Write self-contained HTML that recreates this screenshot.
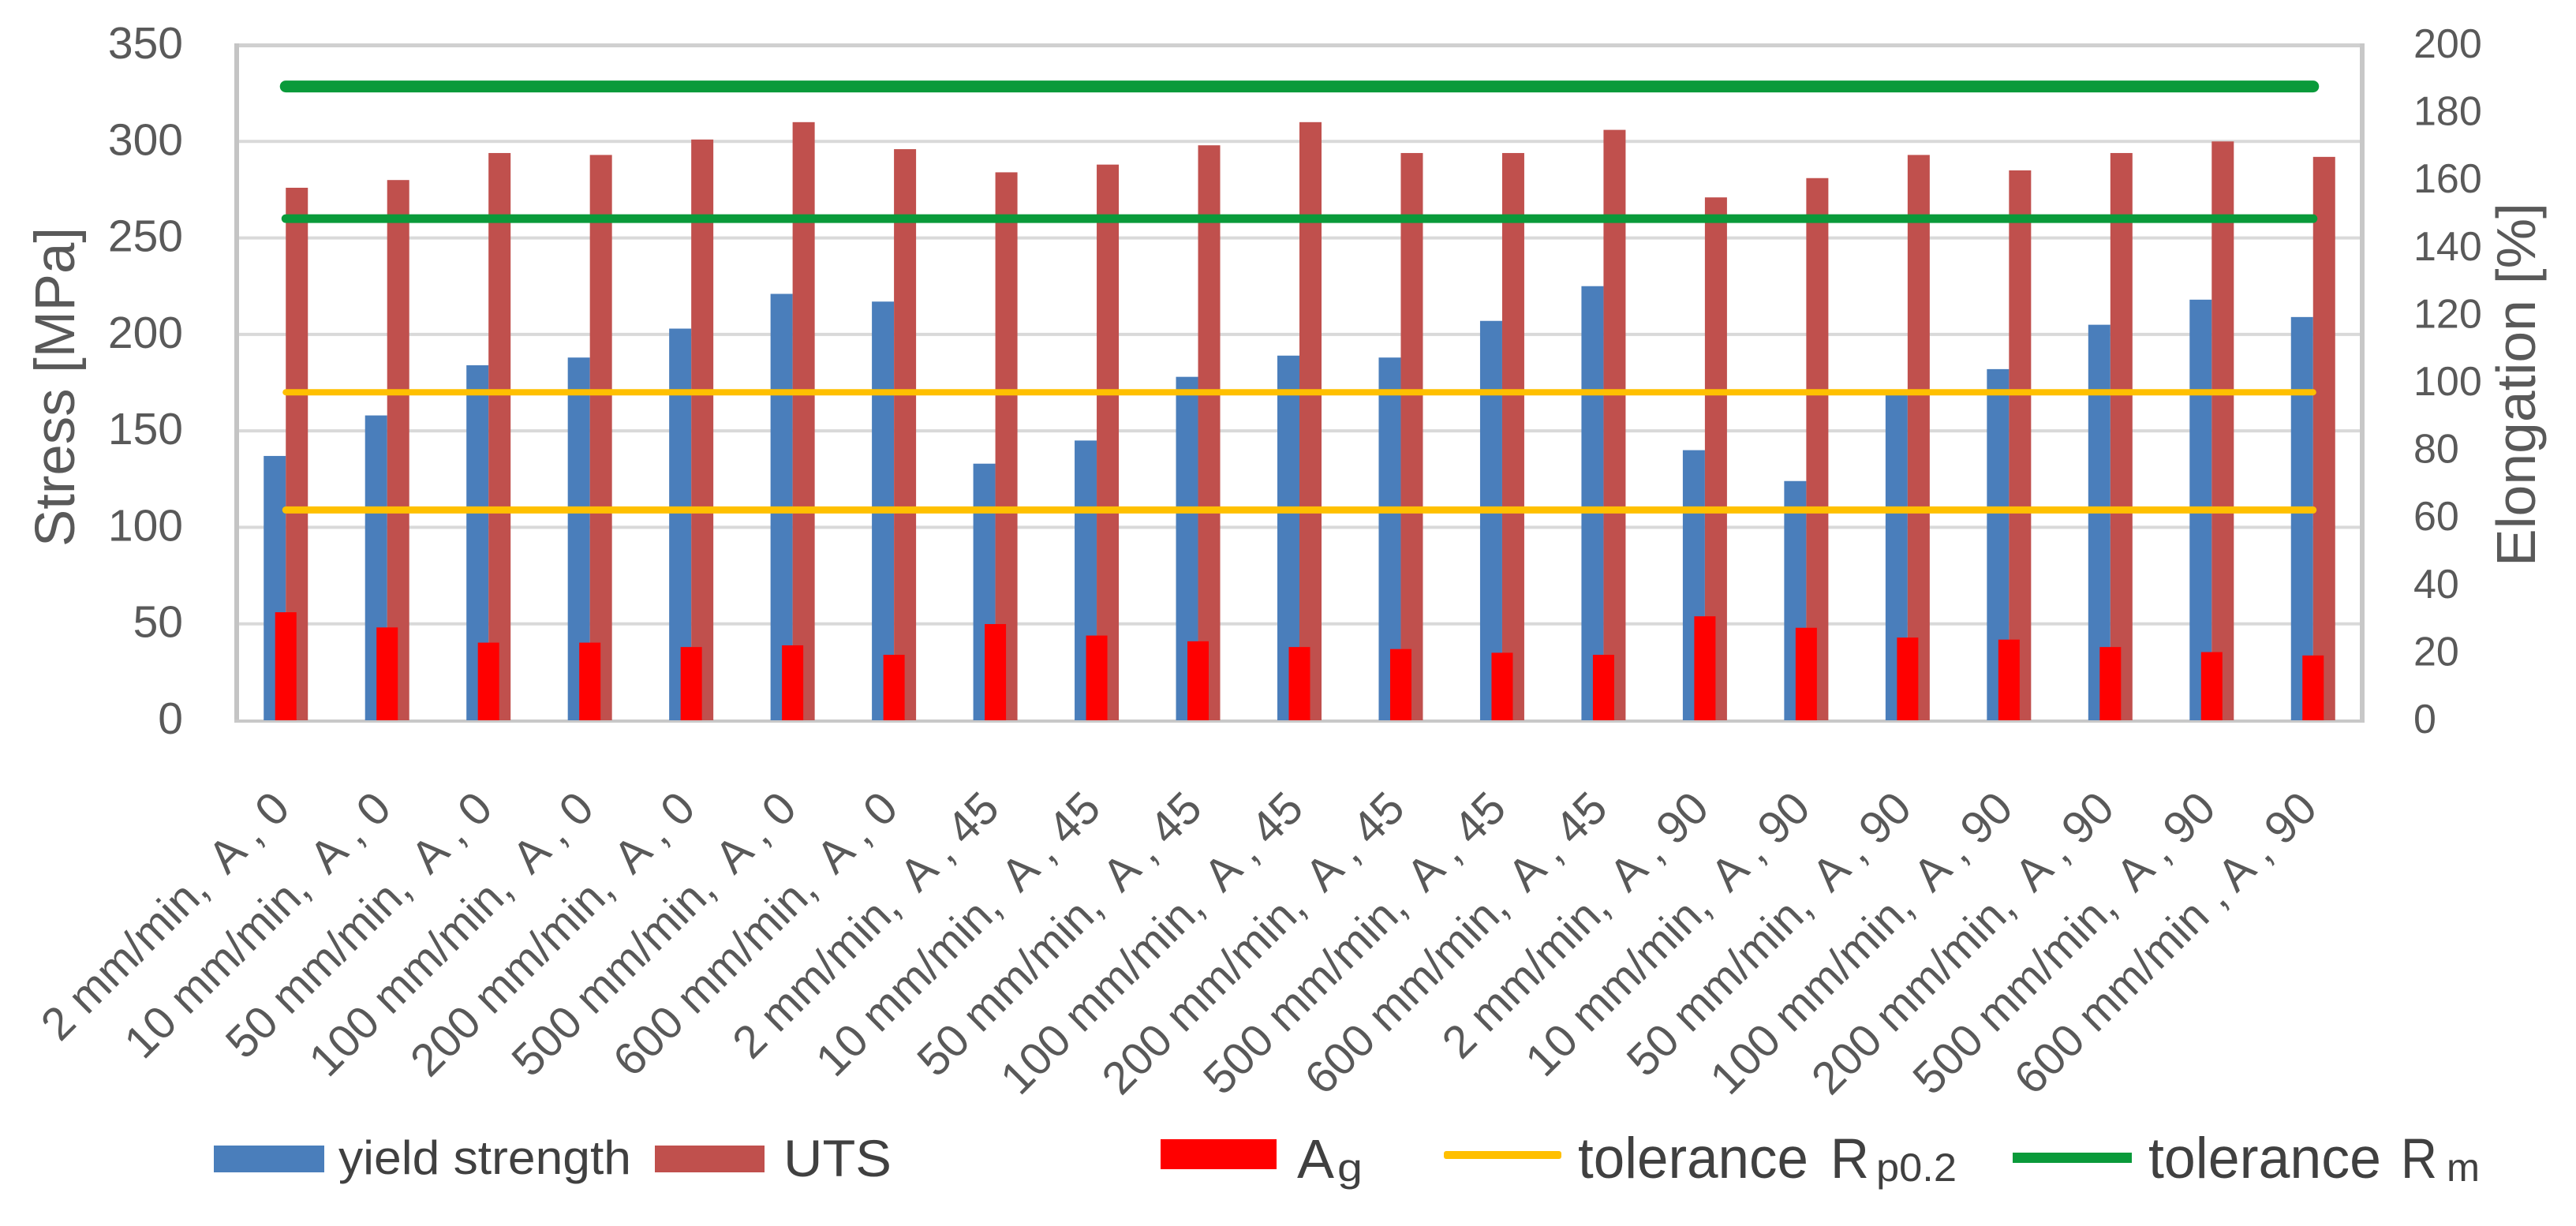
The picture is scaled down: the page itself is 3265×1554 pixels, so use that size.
<!DOCTYPE html>
<html lang="en">
<head>
<meta charset="utf-8">
<title>Stress and elongation chart</title>
<style>
html,body{margin:0;padding:0;background:#fff;}
svg{display:block;}
text{font-family:"Liberation Sans",sans-serif;}
.xl{white-space:pre;}
</style>
</head>
<body>
<svg id="chart" xmlns="http://www.w3.org/2000/svg" width="3265" height="1554" viewBox="0 0 3265 1554">
  <rect x="0" y="0" width="3265" height="1554" fill="#ffffff"/>
  <g id="grid"></g>
  <g id="frame">
    <rect x="297" y="55" width="2700" height="5" fill="#d0d0d0"/>
    <rect x="297" y="55" width="6" height="861" fill="#c4c4c4"/>
    <rect x="2991" y="55" width="6" height="861" fill="#c8c8c8"/>
    <rect x="297" y="912" width="2700" height="4" fill="#c8c8c8"/>
  </g>
  <g id="bars"></g>
  <g id="lines"></g>
  <g id="yl"></g>
  <g id="yr"></g>
  <g id="xl"></g>
  <text transform="translate(94 693) rotate(-90)" font-size="71" fill="#595959" textLength="405" lengthAdjust="spacingAndGlyphs">Stress [MPa]</text>
  <text transform="translate(3213 718) rotate(-90)" font-size="70" fill="#595959" textLength="461" lengthAdjust="spacingAndGlyphs">Elongation [%]</text>
  <g>
    <rect x="271" y="1452" width="140" height="34" fill="#4a7ebb"/>
    <text x="429" y="1488" font-size="60" fill="#404040" textLength="371" lengthAdjust="spacingAndGlyphs">yield strength</text>
    <rect x="830" y="1452" width="139" height="34" fill="#c0504d"/>
    <text x="993" y="1491" font-size="66" fill="#404040" textLength="137" lengthAdjust="spacingAndGlyphs">UTS</text>
    <rect x="1471" y="1444" width="147" height="38" fill="#ff0000"/>
    <text x="1644" y="1493" font-size="70" fill="#404040" textLength="47" lengthAdjust="spacingAndGlyphs">A</text>
    <text x="1695" y="1497" font-size="50" fill="#404040" textLength="32" lengthAdjust="spacingAndGlyphs">g</text>
    <rect x="1830" y="1459" width="149" height="10" rx="3" fill="#ffc000"/>
    <text x="2000" y="1493" font-size="73" fill="#404040" textLength="292" lengthAdjust="spacingAndGlyphs">tolerance</text>
    <text x="2320" y="1493" font-size="71" fill="#404040" textLength="49" lengthAdjust="spacingAndGlyphs">R</text>
    <text x="2378" y="1497" font-size="50" fill="#404040" textLength="102" lengthAdjust="spacingAndGlyphs">p0.2</text>
    <rect x="2551" y="1461" width="151" height="13" fill="#0a9a3a"/>
    <text x="2723" y="1493" font-size="73" fill="#404040" textLength="295" lengthAdjust="spacingAndGlyphs">tolerance</text>
    <text x="3043" y="1493" font-size="71" fill="#404040" textLength="46" lengthAdjust="spacingAndGlyphs">R</text>
    <text x="3101" y="1497" font-size="50" fill="#404040" textLength="42" lengthAdjust="spacingAndGlyphs">m</text>
  </g>
</svg>
<script>
const categories = [
  "2 mm/min,  A , 0","10 mm/min,  A , 0","50 mm/min,  A , 0","100 mm/min,  A , 0","200 mm/min,  A , 0","500 mm/min,  A , 0","600 mm/min,  A , 0",
  "2 mm/min,  A , 45","10 mm/min,  A , 45","50 mm/min,  A , 45","100 mm/min,  A , 45","200 mm/min,  A , 45","500 mm/min,  A , 45","600 mm/min,  A , 45",
  "2 mm/min,  A , 90","10 mm/min,  A , 90","50 mm/min,  A , 90","100 mm/min,  A , 90","200 mm/min,  A , 90","500 mm/min,  A , 90","600 mm/min , A , 90"
];
const yieldStrength = [137,158,184,188,203,221,217,133,145,178,189,188,207,225,140,124,170,182,205,218,209];
const uts = [276,280,294,293,301,310,296,284,288,298,310,294,294,306,271,281,293,285,294,300,292];
const ag = [32,27.5,23,23,21.7,22.2,19.4,28.5,25.1,23.4,21.7,21.1,20,19.4,30.8,27.4,24.5,23.9,21.7,20.2,19.2];
const toleranceRp02Low = [109,109,109,109,109,109,109,109,109,109,109,109,109,109,109,109,109,109,109,109,109];
const toleranceRp02High = [170,170,170,170,170,170,170,170,170,170,170,170,170,170,170,170,170,170,170,170,170];
const toleranceRmLow = [260,260,260,260,260,260,260,260,260,260,260,260,260,260,260,260,260,260,260,260,260];
const toleranceRmHigh = [328.5,328.5,328.5,328.5,328.5,328.5,328.5,328.5,328.5,328.5,328.5,328.5,328.5,328.5,328.5,328.5,328.5,328.5,328.5,328.5,328.5];
const leftTicks = [0,50,100,150,200,250,300,350];
const rightTicks = [0,20,40,60,80,100,120,140,160,180,200];
const gridTicks = [50,100,150,200,250,300];

const NS = "http://www.w3.org/2000/svg";
const plot = {left:298, right:2996, top:57, bottom:913};
const band = (plot.right - plot.left) / categories.length;
const xCenter = i => plot.left + band * (i + 0.5);
const yLeft = v => plot.bottom - (v / 350) * (plot.bottom - plot.top);
const yRight = v => plot.bottom - (v / 200) * (plot.bottom - plot.top);

function make(tag, attrs, parent, txt) {
  const el = document.createElementNS(NS, tag);
  for (const k in attrs) el.setAttribute(k, attrs[k]);
  if (txt !== undefined) el.textContent = txt;
  parent.appendChild(el);
  return el;
}

const gridG = document.getElementById("grid");
gridTicks.forEach(v => {
  const el = make("line", {x1:plot.left, x2:plot.right, y1:yLeft(v), y2:yLeft(v), stroke:"#d9d9d9", "stroke-width":4}, gridG);
  
  
});

const barsG = document.getElementById("bars");
function bar(cx, w, yTop, fill, parent) {
  return make("rect", {x:cx, y:yTop, width:w, height:plot.bottom - yTop, fill:fill}, parent);
}
yieldStrength.forEach((v, i) => {
  const el = bar(xCenter(i) - 28, 28, yLeft(v), "#4a7ebb", barsG);
  
  
});
uts.forEach((v, i) => {
  const el = bar(xCenter(i), 28, yLeft(v), "#c0504d", barsG);
  
  
});
ag.forEach((v, i) => {
  const el = bar(xCenter(i) - 13.5, 27, yRight(v), "#ff0000", barsG);
  
  
});

const linesG = document.getElementById("lines");
function seriesLine(values, color, width, parent) {
  const pts = values.map((v, i) => xCenter(i) + "," + yLeft(v)).join(" ");
  return make("polyline", {points:pts, fill:"none", stroke:color, "stroke-width":width, "stroke-linecap":"round"}, parent);
}
const lineLow = seriesLine(toleranceRp02Low, "#ffc000", 9, linesG);


const lineHigh = seriesLine(toleranceRp02High, "#ffc000", 8, linesG);


const rmLow = seriesLine(toleranceRmLow, "#0a9a3a", 11, linesG);


const rmHigh = seriesLine(toleranceRmHigh, "#0a9a3a", 15, linesG);



const ylG = document.getElementById("yl");
leftTicks.forEach(v => {
  const el = make("text", {x:232, y:yLeft(v) + 17, "text-anchor":"end", "font-size":57, fill:"#595959"}, ylG, String(v));
  
  
});
const yrG = document.getElementById("yr");
rightTicks.forEach(v => {
  const el = make("text", {x:3059, y:yRight(v) + 16, "font-size":52, fill:"#595959"}, yrG, String(v));
  
  
});

const xlG = document.getElementById("xl");
categories.forEach((c, i) => {
  const ax = xCenter(i) + 8;
  const ay = 1028;
  const el = make("text", {x:ax, y:ay, "text-anchor":"end", "font-size":58, fill:"#595959", "class":"xl", transform:"rotate(-45 " + ax + " " + ay + ")"}, xlG, c);
  
  
});
</script>
</body>
</html>
